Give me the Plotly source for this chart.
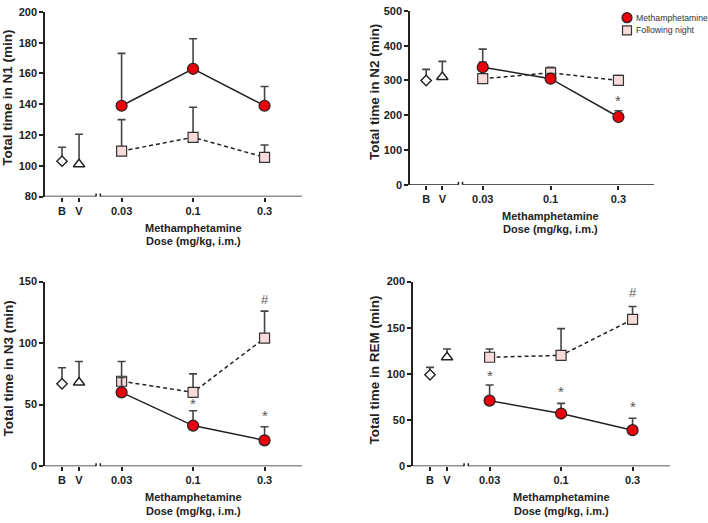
import plotly.graph_objects as go

# ---------------- data ----------------
x_labels = ["B", "V", "0.03", "0.1", "0.3"]
dose_labels = ["0.03", "0.1", "0.3"]

# N1
n1_base = [103, 101]            # B, V
n1_base_err = [9, 19.5]
n1_meth = [139, 163, 139]
n1_meth_err = [34, 19.5, 12.5]
n1_next = [109.5, 118.5, 105.5]
n1_next_err = [20.5, 19.5, 8]

# N2
n2_base = [300, 310]
n2_base_err = [32, 45]
n2_meth = [338, 305, 195]
n2_meth_err = [52, 15, 18]
n2_next = [305, 322, 300]
n2_next_err = [48, 16, 14]

# N3
n3_base = [67, 68]
n3_base_err = [13, 17]
n3_meth = [60, 33, 21]
n3_meth_err = [12, 12, 11]
n3_next = [69, 60, 104]
n3_next_err = [16, 15, 22]

# REM
rem_base = [99, 118]
rem_base_err = [8, 9]
rem_meth = [71, 57, 39]
rem_meth_err = [17, 11, 13]
rem_next = [118, 120, 159]
rem_next_err = [9, 29, 14]

# significance marks: (panel, dose label, y value, text)
sig_marks = [
    (2, "0.3", 243, "*"),
    (3, "0.1", 51, "*"),
    (3, "0.3", 41, "*"),
    (3, "0.3", 135, "#"),
    (4, "0.03", 98, "*"),
    (4, "0.1", 81, "*"),
    (4, "0.3", 65, "*"),
    (4, "0.3", 188, "#"),
]

y_titles = ["Total time in N1 (min)", "Total time in N2 (min)",
            "Total time in N3 (min)", "Total time in REM (min)"]
y_ranges = [[80, 200], [0, 500], [0, 150], [0, 200]]
y_dticks = [20, 100, 50, 50]
legend_names = ["Methamphetamine", "Following night"]

# ---------------- style / layout ----------------
W, H = 708, 523
XPOS = {"B": 0, "V": 1, "0.03": 3.5, "0.1": 7.7, "0.3": 11.9}
XRANGE = [-1, 14.1]
BREAK = (2.0, 2.25)
FONT = "Liberation Sans, Arial, sans-serif"
DARK = "#222222"
ERRC = "#444444"
RED = "#e8000b"
PINK = "#f8dada"

# panel pixel boxes: (left, right, top, bottom)
boxes = [(45, 302, 6, 195), (410, 654, 5, 183), (45, 302, 282, 471), (413, 670, 282, 471)]
ytitle_x = [8, 375, 8, 374]
ytitle_y = [94, 88, 371, 373]

fig = go.Figure()

panels = [
    (n1_base, n1_base_err, n1_meth, n1_meth_err, n1_next, n1_next_err),
    (n2_base, n2_base_err, n2_meth, n2_meth_err, n2_next, n2_next_err),
    (n3_base, n3_base_err, n3_meth, n3_meth_err, n3_next, n3_next_err),
    (rem_base, rem_base_err, rem_meth, rem_meth_err, rem_next, rem_next_err),
]

def err(arr):
    return dict(type="data", symmetric=False, array=arr, arrayminus=[0] * len(arr),
                color=ERRC, thickness=1.6, width=4)

annotations = []
shapes = []
for i, (base, base_err, meth, meth_err, nxt, nxt_err) in enumerate(panels):
    k = i + 1
    xa = "x" if k == 1 else f"x{k}"
    ya = "y" if k == 1 else f"y{k}"
    dx = [XPOS[d] for d in dose_labels]
    # following night (dashed)
    fig.add_trace(go.Scatter(
        x=dx, y=nxt, error_y=err(nxt_err), mode="lines+markers",
        line=dict(color=DARK, width=1.5, dash="4px,3px"),
        marker=dict(symbol="square", size=10, color=PINK, line=dict(color="#333333", width=1.2)),
        xaxis=xa, yaxis=ya, showlegend=False))
    # methamphetamine (solid)
    fig.add_trace(go.Scatter(
        x=dx, y=meth, error_y=err(meth_err), mode="lines+markers",
        line=dict(color=DARK, width=1.5),
        marker=dict(symbol="circle", size=11, color=RED, line=dict(color="#222222", width=1.2)),
        xaxis=xa, yaxis=ya, showlegend=False))
    # baseline
    fig.add_trace(go.Scatter(
        x=[XPOS["B"]], y=[base[0]], error_y=err([base_err[0]]), mode="markers",
        marker=dict(symbol="diamond", size=8, color="white", line=dict(color=DARK, width=1.4)),
        xaxis=xa, yaxis=ya, showlegend=False))
    # vehicle
    fig.add_trace(go.Scatter(
        x=[XPOS["V"]], y=[base[1]], error_y=err([base_err[1]]), mode="markers",
        marker=dict(symbol="triangle-up", size=10, color="white", line=dict(color=DARK, width=1.4)),
        xaxis=xa, yaxis=ya, showlegend=False))

    l, r, t, b = boxes[i]
    dom_x = [l / W, r / W]
    dom_y = [1 - b / H, 1 - t / H]
    axname = "xaxis" if k == 1 else f"xaxis{k}"
    ayname = "yaxis" if k == 1 else f"yaxis{k}"
    fig.update_layout(**{
        axname: dict(domain=dom_x, range=XRANGE, anchor=ya, showline=False, showgrid=False,
                     zeroline=False, tickvals=[XPOS[c] for c in x_labels], ticktext=x_labels,
                     ticks="outside", ticklen=4, tickwidth=1.5, tickcolor=DARK,
                     tickfont=dict(family=FONT, size=11, color=DARK, weight="bold")),
        ayname: dict(domain=dom_y, range=y_ranges[i], anchor=xa, showline=True, linecolor=DARK,
                     linewidth=1.5, showgrid=False, zeroline=False, dtick=y_dticks[i],
                     ticks="outside", ticklen=4, tickwidth=1.5, tickcolor=DARK,
                     tickfont=dict(family=FONT, size=11, color=DARK, weight="bold")),
    })
    y0 = y_ranges[i][0]
    # broken x axis line
    shapes.append(dict(type="line", xref=xa, yref=ya, x0=XRANGE[0], x1=BREAK[0], y0=y0, y1=y0,
                       line=dict(color=DARK, width=1.5)))
    shapes.append(dict(type="line", xref=xa, yref=ya, x0=BREAK[1], x1=XRANGE[1], y0=y0, y1=y0,
                       line=dict(color=DARK, width=1.5)))
    for bx in BREAK:
        shapes.append(dict(type="line", xref=xa, yref=ya, ysizemode="pixel", yanchor=y0,
                           x0=bx, x1=bx, y0=-3, y1=3, line=dict(color=DARK, width=1.5)))
    # y title
    annotations.append(dict(text=y_titles[i], xref="paper", yref="paper",
                            x=ytitle_x[i] / W, y=1 - ytitle_y[i] / H, textangle=-90,
                            showarrow=False, xanchor="center", yanchor="middle",
                            font=dict(family=FONT, size=13.5, color=DARK, weight="bold")))
    # x title (two lines)
    for txt, off in (("Methamphetamine", 32), ("Dose (mg/kg, i.m.)", 45.5)):
        annotations.append(dict(text=txt, xref=xa, yref="paper",
                                x=XPOS["0.1"], y=1 - (b + off) / H, yanchor="middle",
                                showarrow=False,
                                font=dict(family=FONT, size=11, color=DARK, weight="bold")))

for p, d, yv, txt in sig_marks:
    xa = "x" if p == 1 else f"x{p}"
    ya = "y" if p == 1 else f"y{p}"
    annotations.append(dict(text=txt, xref=xa, yref=ya, x=XPOS[d], y=yv, showarrow=False,
                            font=dict(family=FONT, size=15 if txt == "*" else 13, color="#555555")))

# manual legend (glyphs + labels)
leg_x, leg_y = 627, [12, 25]
shapes.append(dict(type="circle", xref="paper", yref="paper", xsizemode="pixel", ysizemode="pixel",
                   xanchor=leg_x / W, yanchor=1 - leg_y[0] / H, x0=-5, x1=5, y0=-5, y1=5,
                   fillcolor=RED, line=dict(color="#222222", width=1.2)))
shapes.append(dict(type="rect", xref="paper", yref="paper", xsizemode="pixel", ysizemode="pixel",
                   xanchor=leg_x / W, yanchor=1 - leg_y[1] / H, x0=-4.5, x1=4.5, y0=-4.5, y1=4.5,
                   fillcolor=PINK, line=dict(color="#333333", width=1.2)))
for name, ly in zip(legend_names, leg_y):
    annotations.append(dict(text=name, xref="paper", yref="paper", x=634 / W, y=1 - ly / H,
                            xanchor="left", yanchor="middle", showarrow=False,
                            font=dict(family=FONT, size=8.7, color="#333333")))

fig.update_layout(
    width=W, height=H, margin=dict(l=0, r=0, t=0, b=0),
    plot_bgcolor="white", paper_bgcolor="white",
    annotations=annotations, shapes=shapes, showlegend=False,
)

fig.write_html("out.html", config={"displayModeBar": False},
               post_script="document.body.style.margin='0';")
